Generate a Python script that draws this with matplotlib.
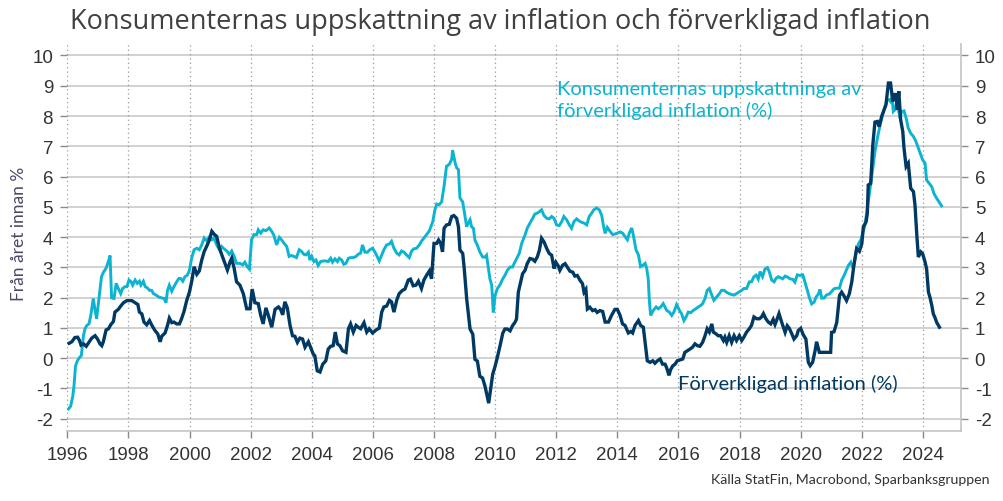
import matplotlib.pyplot as plt

plt.rcParams['axes.unicode_minus'] = False

# Förverkligad inflation (%) (decimal years)
actual_years = [
    1996.06, 1996.15, 1996.25, 1996.34, 1996.40, 1996.45, 1996.53, 1996.62, 1996.72, 1996.80,
    1996.91, 1996.99, 1997.07, 1997.13, 1997.18, 1997.27, 1997.35, 1997.42, 1997.51, 1997.56,
    1997.67, 1997.75, 1997.84, 1997.95, 1998.11, 1998.22, 1998.31, 1998.36, 1998.44, 1998.51,
    1998.60, 1998.69, 1998.77, 1998.87, 1998.96, 1999.04, 1999.09, 1999.20, 1999.28, 1999.34,
    1999.42, 1999.49, 1999.58, 1999.67, 1999.74, 1999.82, 1999.91, 2000.00, 2000.08, 2000.15,
    2000.24, 2000.32, 2000.40, 2000.48, 2000.56, 2000.64, 2000.73, 2000.80, 2000.89, 2000.97,
    2001.05, 2001.16, 2001.24, 2001.33, 2001.38, 2001.46, 2001.54, 2001.65, 2001.76, 2001.87,
    2001.98, 2002.05, 2002.14, 2002.25, 2002.33, 2002.41, 2002.50, 2002.58, 2002.69, 2002.80,
    2002.91, 2002.98, 2003.05, 2003.12, 2003.20, 2003.29, 2003.37, 2003.45, 2003.53, 2003.61,
    2003.70, 2003.78, 2003.89, 2003.96, 2004.05, 2004.10, 2004.18, 2004.27, 2004.36, 2004.46,
    2004.54, 2004.62, 2004.70, 2004.77, 2004.84, 2004.92, 2005.01, 2005.12, 2005.20, 2005.27,
    2005.36, 2005.45, 2005.52, 2005.60, 2005.71, 2005.80, 2005.88, 2005.99, 2006.12, 2006.21,
    2006.29, 2006.36, 2006.45, 2006.54, 2006.61, 2006.69, 2006.78, 2006.86, 2006.97, 2007.05,
    2007.16, 2007.23, 2007.32, 2007.41, 2007.49, 2007.59, 2007.67, 2007.76, 2007.85, 2007.92,
    2008.00, 2008.09, 2008.15, 2008.22, 2008.28, 2008.33, 2008.41, 2008.50, 2008.58, 2008.65,
    2008.74, 2008.80, 2008.85, 2008.94, 2008.99, 2009.07, 2009.18, 2009.27, 2009.34, 2009.42,
    2009.50, 2009.59, 2009.67, 2009.72, 2009.79, 2009.85, 2009.92, 2010.00, 2010.07, 2010.16,
    2010.25, 2010.32, 2010.40, 2010.49, 2010.57, 2010.65, 2010.70, 2010.76, 2010.81, 2010.90,
    2010.98, 2011.05, 2011.14, 2011.22, 2011.30, 2011.38, 2011.45, 2011.52, 2011.60, 2011.69,
    2011.77, 2011.85, 2011.93, 2011.99, 2012.07, 2012.12, 2012.21, 2012.29, 2012.36, 2012.45,
    2012.54, 2012.61, 2012.69, 2012.78, 2012.86, 2012.91, 2012.97, 2013.02, 2013.10, 2013.19,
    2013.27, 2013.34, 2013.43, 2013.52, 2013.60, 2013.71, 2013.81, 2013.92, 2014.00, 2014.09,
    2014.17, 2014.25, 2014.36, 2014.44, 2014.50, 2014.58, 2014.69, 2014.76, 2014.85, 2014.91,
    2014.98, 2015.07, 2015.16, 2015.23, 2015.31, 2015.40, 2015.48, 2015.56, 2015.61, 2015.69,
    2015.74, 2015.81, 2015.89, 2015.96, 2016.05, 2016.14, 2016.21, 2016.29, 2016.38, 2016.46,
    2016.54, 2016.62, 2016.70, 2016.79, 2016.87, 2016.94, 2017.01, 2017.09, 2017.14, 2017.23,
    2017.30, 2017.38, 2017.47, 2017.52, 2017.58, 2017.66, 2017.74, 2017.82, 2017.90, 2017.99,
    2018.07, 2018.14, 2018.23, 2018.32, 2018.39, 2018.47, 2018.56, 2018.65, 2018.72, 2018.78,
    2018.86, 2018.94, 2019.02, 2019.10, 2019.16, 2019.21, 2019.29, 2019.38, 2019.49, 2019.56,
    2019.63, 2019.71, 2019.78, 2019.87, 2019.92, 2020.00, 2020.09, 2020.17, 2020.25, 2020.31,
    2020.39, 2020.47, 2020.52, 2020.61, 2020.69, 2020.80, 2020.91, 2020.98, 2021.01, 2021.09,
    2021.18, 2021.27, 2021.34, 2021.42, 2021.50, 2021.59, 2021.67, 2021.74, 2021.83, 2021.92,
    2022.00, 2022.05, 2022.14, 2022.18, 2022.21, 2022.29, 2022.36, 2022.43, 2022.51, 2022.57,
    2022.65, 2022.73, 2022.79, 2022.87, 2022.94, 2023.01, 2023.05, 2023.12, 2023.16, 2023.21,
    2023.27, 2023.34, 2023.38, 2023.45, 2023.52, 2023.60, 2023.69, 2023.74, 2023.80, 2023.85,
    2023.93, 2023.99, 2024.07, 2024.12, 2024.18, 2024.23, 2024.29, 2024.34, 2024.39, 2024.45,
    2024.54,
]
actual = [
    0.49, 0.54, 0.68, 0.69, 0.58, 0.43, 0.47, 0.39, 0.54, 0.66,
    0.74, 0.63, 0.47, 0.41, 0.54, 0.93, 0.97, 1.10, 1.21, 1.52,
    1.61, 1.72, 1.83, 1.90, 1.90, 1.83, 1.77, 1.52, 1.46, 1.19,
    1.10, 1.24, 1.08, 0.91, 0.80, 0.54, 0.72, 0.83, 1.08, 1.32,
    1.17, 1.19, 1.13, 1.13, 1.30, 1.54, 1.91, 2.19, 2.58, 3.02,
    2.77, 2.88, 3.24, 3.52, 3.69, 3.88, 4.19, 4.10, 4.02, 3.66,
    3.43, 3.13, 2.91, 3.19, 3.30, 2.97, 2.52, 2.41, 2.13, 1.63,
    1.63, 2.28, 1.83, 1.80, 1.41, 1.13, 1.66, 1.41, 1.02, 1.61,
    1.69, 1.61, 1.43, 1.86, 1.66, 1.08, 0.74, 0.72, 0.52, 0.66,
    0.63, 0.36, 0.54, 0.36, 0.13, 0.08, -0.42, -0.46, -0.20, -0.09,
    0.30, 0.39, 0.41, 0.86, 0.47, 0.41, 0.24, 0.19, 0.97, 1.13,
    0.86, 1.08, 1.02, 0.97, 1.17, 0.86, 0.97, 0.83, 0.94, 0.99,
    1.52, 1.69, 1.72, 1.91, 1.86, 1.52, 1.91, 2.13, 2.24, 2.28,
    2.58, 2.61, 2.39, 2.41, 2.54, 2.30, 2.58, 2.74, 2.88, 2.62,
    3.79, 3.79, 3.90, 3.79, 3.51, 4.29, 4.40, 4.42, 4.68, 4.71,
    4.62, 4.34, 3.57, 3.46, 2.96, 1.96, 0.96, 0.79, -0.04, -0.10,
    -0.60, -0.66, -0.93, -1.16, -1.49, -1.04, -0.54, -0.27, 0.01, 0.40,
    0.82, 0.96, 0.96, 0.90, 1.07, 1.18, 1.29, 2.18, 2.40, 2.79,
    2.90, 3.12, 3.29, 3.27, 3.20, 3.34, 3.57, 3.96, 3.84, 3.62,
    3.46, 3.40, 2.96, 3.16, 3.04, 2.90, 3.07, 3.12, 3.01, 2.87,
    2.84, 2.71, 2.73, 2.57, 2.46, 2.18, 2.27, 1.62, 1.68, 1.57,
    1.60, 1.51, 1.57, 1.54, 1.19, 1.19, 1.41, 1.61, 1.61, 1.41,
    1.13, 1.08, 0.83, 0.88, 0.83, 1.08, 1.24, 1.08, 1.02, 0.52,
    -0.09, -0.14, -0.09, -0.17, -0.09, -0.03, -0.20, -0.20, -0.31, -0.57,
    -0.39, -0.26, -0.20, -0.09, -0.06, -0.03, 0.19, 0.24, 0.30, 0.36,
    0.47, 0.41, 0.39, 0.52, 0.74, 0.97, 0.86, 1.13, 0.86, 0.80,
    0.74, 0.74, 0.58, 0.69, 0.52, 0.74, 0.52, 0.74, 0.58, 0.74,
    0.58, 0.69, 0.86, 0.97, 1.08, 1.36, 1.30, 1.30, 1.36, 1.47,
    1.30, 1.19, 1.13, 1.28, 1.11, 1.24, 1.47, 1.18, 0.85, 1.07,
    0.98, 0.80, 0.63, 0.74, 0.91, 0.98, 0.76, 0.63, -0.14, -0.25,
    -0.14, 0.24, 0.54, 0.19, 0.19, 0.19, 0.19, 0.19, 0.85, 0.87,
    1.18, 2.07, 2.18, 2.05, 1.90, 2.12, 2.51, 3.06, 3.62, 3.53,
    3.78, 4.34, 4.50, 4.78, 5.72, 5.77, 7.05, 7.80, 7.82, 7.65,
    7.99, 8.21, 8.37, 9.09, 9.09, 8.48, 8.71, 8.71, 8.21, 8.82,
    7.88, 7.49, 6.94, 6.33, 6.44, 5.61, 5.50, 5.06, 4.06, 3.34,
    3.51, 3.45, 3.17, 2.95, 2.18, 2.01, 1.74, 1.46, 1.35, 1.18,
    1.02,
]

# Konsumenternas uppskattning av förverkligad inflation (%)
expected_years = [
    1996.04, 1996.11, 1996.18, 1996.22, 1996.27, 1996.33, 1996.40, 1996.46, 1996.53, 1996.58,
    1996.64, 1996.71, 1996.77, 1996.85, 1996.91, 1996.96, 1997.05, 1997.12, 1997.18, 1997.27,
    1997.35, 1997.40, 1997.45, 1997.53, 1997.60, 1997.67, 1997.75, 1997.81, 1997.89, 1997.95,
    1998.02, 1998.09, 1998.14, 1998.22, 1998.29, 1998.36, 1998.41, 1998.49, 1998.55, 1998.62,
    1998.69, 1998.76, 1998.82, 1998.91, 1998.99, 1999.09, 1999.17, 1999.23, 1999.28, 1999.34,
    1999.42, 1999.49, 1999.58, 1999.65, 1999.71, 1999.78, 1999.85, 1999.93, 2000.00, 2000.07,
    2000.15, 2000.24, 2000.32, 2000.40, 2000.48, 2000.56, 2000.64, 2000.73, 2000.80, 2000.89,
    2000.98, 2001.05, 2001.13, 2001.22, 2001.30, 2001.38, 2001.46, 2001.54, 2001.65, 2001.74,
    2001.81, 2001.89, 2001.96, 2002.03, 2002.11, 2002.20, 2002.25, 2002.33, 2002.41, 2002.50,
    2002.61, 2002.69, 2002.76, 2002.85, 2002.94, 2003.01, 2003.09, 2003.18, 2003.26, 2003.34,
    2003.42, 2003.50, 2003.59, 2003.67, 2003.74, 2003.81, 2003.89, 2003.94, 2004.00, 2004.07,
    2004.14, 2004.21, 2004.29, 2004.38, 2004.46, 2004.54, 2004.62, 2004.68, 2004.76, 2004.84,
    2004.90, 2004.98, 2005.05, 2005.12, 2005.20, 2005.27, 2005.36, 2005.45, 2005.52, 2005.60,
    2005.66, 2005.74, 2005.82, 2005.90, 2005.99, 2006.07, 2006.14, 2006.21, 2006.29, 2006.36,
    2006.45, 2006.54, 2006.61, 2006.69, 2006.78, 2006.86, 2006.94, 2007.02, 2007.10, 2007.19,
    2007.27, 2007.34, 2007.43, 2007.52, 2007.59, 2007.67, 2007.76, 2007.85, 2007.96, 2008.03,
    2008.09, 2008.17, 2008.25, 2008.33, 2008.41, 2008.50, 2008.58, 2008.61, 2008.69, 2008.74,
    2008.80, 2008.85, 2008.94, 2009.01, 2009.07, 2009.12, 2009.18, 2009.23, 2009.29, 2009.34,
    2009.42, 2009.50, 2009.59, 2009.67, 2009.72, 2009.78, 2009.83, 2009.89, 2009.94, 2010.00,
    2010.07, 2010.16, 2010.25, 2010.32, 2010.40, 2010.49, 2010.57, 2010.65, 2010.73, 2010.79,
    2010.87, 2010.98, 2011.05, 2011.14, 2011.23, 2011.30, 2011.38, 2011.45, 2011.52, 2011.60,
    2011.69, 2011.77, 2011.85, 2011.93, 2012.01, 2012.10, 2012.18, 2012.25, 2012.34, 2012.43,
    2012.50, 2012.58, 2012.67, 2012.75, 2012.83, 2012.91, 2013.00, 2013.08, 2013.16, 2013.23,
    2013.32, 2013.41, 2013.49, 2013.54, 2013.60, 2013.67, 2013.76, 2013.85, 2013.92, 2014.00,
    2014.09, 2014.17, 2014.25, 2014.33, 2014.39, 2014.47, 2014.52, 2014.61, 2014.69, 2014.76,
    2014.83, 2014.91, 2014.96, 2015.01, 2015.05, 2015.09, 2015.18, 2015.27, 2015.34, 2015.42,
    2015.50, 2015.56, 2015.61, 2015.70, 2015.78, 2015.85, 2015.94, 2016.03, 2016.10, 2016.18,
    2016.25, 2016.32, 2016.40, 2016.49, 2016.57, 2016.65, 2016.73, 2016.79, 2016.87, 2016.94,
    2017.01, 2017.09, 2017.16, 2017.25, 2017.34, 2017.41, 2017.49, 2017.58, 2017.66, 2017.74,
    2017.82, 2017.90, 2017.99, 2018.07, 2018.14, 2018.23, 2018.32, 2018.39, 2018.47, 2018.54,
    2018.61, 2018.67, 2018.75, 2018.83, 2018.91, 2018.97, 2019.05, 2019.13, 2019.19, 2019.27,
    2019.41, 2019.49, 2019.56, 2019.65, 2019.74, 2019.81, 2019.89, 2019.98, 2020.07, 2020.14,
    2020.22, 2020.28, 2020.36, 2020.44, 2020.50, 2020.58, 2020.63, 2020.69, 2020.76, 2020.85,
    2020.94, 2021.01, 2021.09, 2021.18, 2021.27, 2021.34, 2021.42, 2021.48, 2021.56, 2021.64,
    2021.70, 2021.74, 2021.81, 2021.89, 2021.96, 2022.03, 2022.10, 2022.18, 2022.27, 2022.36,
    2022.43, 2022.51, 2022.60, 2022.68, 2022.76, 2022.84, 2022.90, 2022.94, 2022.99, 2023.03,
    2023.09, 2023.14, 2023.20, 2023.25, 2023.30, 2023.38, 2023.45, 2023.52, 2023.60, 2023.69,
    2023.77, 2023.85, 2023.93, 2023.99, 2024.07, 2024.12, 2024.21, 2024.29, 2024.36, 2024.45,
    2024.54, 2024.61,
]
expected = [
    -1.68, -1.59, -1.26, -0.92, -0.26, -0.09, 0.02, 0.08, 0.74, 0.97,
    1.08, 1.13, 1.41, 1.97, 1.58, 1.30, 2.08, 2.69, 2.83, 2.97,
    3.21, 3.39, 1.99, 1.97, 2.47, 2.30, 2.13, 2.30, 2.36, 2.36,
    2.58, 2.52, 2.41, 2.58, 2.47, 2.54, 2.41, 2.54, 2.36, 2.32,
    2.24, 2.24, 2.13, 2.08, 2.02, 1.99, 1.97, 1.83, 2.24, 2.41,
    2.21, 2.36, 2.52, 2.63, 2.63, 2.54, 2.69, 2.74, 2.91, 3.30,
    3.58, 3.63, 3.58, 3.74, 3.97, 3.88, 3.99, 3.91, 3.97, 3.74,
    3.58, 3.69, 3.61, 3.54, 3.43, 3.54, 3.36, 3.13, 3.13, 3.08,
    3.17, 3.02, 2.94, 3.91, 4.08, 4.08, 4.24, 4.13, 4.24, 4.21,
    4.30, 4.19, 4.06, 3.74, 3.99, 3.91, 3.80, 3.69, 3.36, 3.39,
    3.36, 3.32, 3.58, 3.52, 3.43, 3.41, 3.50, 3.24, 3.36, 3.19,
    3.24, 3.06, 3.19, 3.21, 3.21, 3.19, 3.30, 3.17, 3.28, 3.19,
    3.30, 3.24, 3.10, 3.13, 3.30, 3.32, 3.32, 3.36, 3.43, 3.47,
    3.74, 3.50, 3.50, 3.58, 3.63, 3.50, 3.36, 3.21, 3.41, 3.58,
    3.74, 3.77, 3.86, 3.63, 3.47, 3.41, 3.54, 3.50, 3.41, 3.32,
    3.54, 3.61, 3.63, 3.74, 3.86, 3.97, 4.08, 4.21, 4.51, 4.90,
    5.09, 5.07, 5.16, 5.68, 6.34, 6.40, 6.57, 6.87, 6.46, 6.29,
    6.23, 5.29, 5.16, 4.73, 4.34, 4.46, 4.57, 4.34, 4.29, 3.90,
    3.73, 3.51, 3.34, 3.34, 3.40, 2.96, 2.62, 2.40, 1.51, 2.07,
    2.29, 2.42, 2.62, 2.73, 2.90, 3.01, 3.01, 3.18, 3.34, 3.46,
    3.79, 4.07, 4.29, 4.46, 4.62, 4.76, 4.79, 4.84, 4.90, 4.71,
    4.62, 4.60, 4.68, 4.62, 4.40, 4.38, 4.51, 4.68, 4.57, 4.40,
    4.29, 4.51, 4.60, 4.53, 4.49, 4.46, 4.40, 4.68, 4.79, 4.90,
    4.96, 4.90, 4.71, 4.40, 4.12, 4.32, 4.19, 4.08, 4.10, 4.13,
    4.17, 4.13, 4.02, 3.91, 4.13, 4.30, 4.08, 3.58, 3.41, 3.02,
    3.06, 3.13, 2.97, 2.63, 1.86, 1.41, 1.58, 1.69, 1.63, 1.69,
    1.80, 1.69, 1.58, 1.52, 1.41, 1.52, 1.77, 1.58, 1.47, 1.24,
    1.36, 1.52, 1.50, 1.58, 1.63, 1.69, 1.74, 1.80, 1.97, 2.24,
    2.30, 2.08, 1.91, 2.02, 2.13, 2.24, 2.24, 2.17, 2.13, 2.10,
    2.08, 2.13, 2.19, 2.24, 2.30, 2.30, 2.52, 2.52, 2.69, 2.74,
    2.61, 2.86, 2.69, 2.94, 2.99, 2.86, 2.58, 2.52, 2.63, 2.69,
    2.62, 2.71, 2.68, 2.62, 2.60, 2.51, 2.75, 2.73, 2.75, 2.51,
    2.23, 2.01, 1.79, 1.85, 2.01, 2.12, 2.27, 1.98, 1.98, 2.09,
    2.12, 2.20, 2.29, 2.31, 2.31, 2.57, 2.73, 2.87, 3.06, 3.17,
    3.01, 3.06, 3.51, 3.78, 3.89, 4.12, 4.39, 4.94, 5.61, 6.27,
    6.83, 7.27, 7.71, 8.04, 8.32, 8.54, 8.54, 8.48, 8.59, 8.15,
    8.21, 8.48, 8.21, 7.93, 8.15, 8.17, 7.93, 7.60, 7.43, 7.32,
    7.16, 6.94, 6.71, 6.55, 6.44, 5.88, 5.77, 5.66, 5.44, 5.28,
    5.14, 5.03,
]

y_ticks = list(range(-2, 11))
x_ticks = list(range(1996, 2025, 2))

light = '#0bb4d1'
dark = '#003963'
grid_c = '#c9c9c9'
text_c = '#333333'

fig = plt.figure(figsize=(10.04, 5.02), dpi=100)
ax = fig.add_axes([0.0667, 0.1394, 0.8903, 0.771])

for y in y_ticks:
    ax.axhline(y, color=grid_c, lw=1.2, zorder=0)
for x in x_ticks:
    ax.axvline(x, color='#9a9a9a', lw=0.9, ls=(0, (1, 2.5)), zorder=0)

ax.plot(expected_years, expected, color=light, lw=2.1, zorder=2, solid_joinstyle='miter')
ax.plot(actual_years, actual, color=dark, lw=2.4, zorder=3, solid_joinstyle='miter')

ax.set_xlim(1995.99, 2025.24)
ax.set_ylim(-2.41, 10.38)
ax.set_xticks(x_ticks)
ax.set_yticks(y_ticks)

ax.spines['top'].set_visible(False)
ax.spines['left'].set_visible(False)
for s in ('bottom', 'right'):
    ax.spines[s].set_color('#c4c4c4')
    ax.spines[s].set_linewidth(1.2)

ax.tick_params(axis='both', which='both', direction='out', length=5, width=1,
               color='#8a8a8a', labelcolor=text_c, labelsize=13.5)
ax.tick_params(axis='y', left=True, right=True, labelleft=True, labelright=True, pad=5)
ax.tick_params(axis='x', pad=6)
for lab in ax.get_xticklabels() + ax.get_yticklabels():
    lab.set_family('Liberation Sans')

fig.text(0.4985, 0.956, 'Konsumenternas uppskattning av inflation och förverkligad inflation',
         ha='center', va='center', fontsize=19.5, color='#404040', family='Open Sans')
fig.text(0.019, 0.534, 'Från året innan %', rotation=90, ha='center', va='center',
         fontsize=12.5, color='#4f4566', family='Lato')
fig.text(0.986, 0.043, 'Källa StatFin, Macrobond, Sparbanksgruppen', ha='right', va='center',
         fontsize=10.2, color=text_c, family='Lato')

ax.text(2012.04, 8.55, 'Konsumenternas uppskattninga av\nförverkligad inflation (%)',
        color=light, fontsize=14.5, family='Lato', ha='left', va='center', linespacing=1.25)
ax.text(2016.0, -0.82, 'Förverkligad inflation (%)', color=dark, fontsize=14.5,
        family='Lato', ha='left', va='center')

fig.savefig('out.png', dpi=100)
